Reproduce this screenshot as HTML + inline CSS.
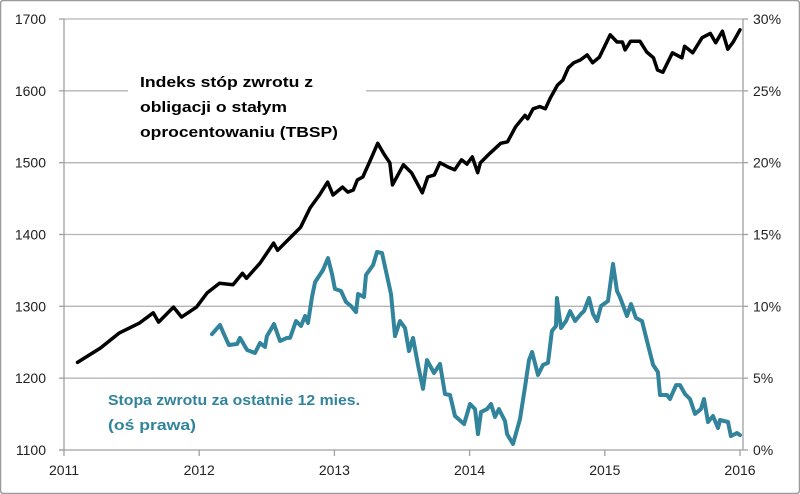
<!DOCTYPE html>
<html><head><meta charset="utf-8"><style>
html,body{margin:0;padding:0;background:#fff}
svg{display:block;font-family:"Liberation Sans",sans-serif}
</style></head><body>
<svg id="chart" width="800" height="494" viewBox="0 0 800 494" xmlns="http://www.w3.org/2000/svg">
<rect x="0.5" y="0.5" width="799" height="493" rx="3" fill="#fff" stroke="#9a9a9a" stroke-width="1.5"/>
<g id="grid"></g>
<g id="axes"></g>
<g id="series"></g>
<rect x="128" y="68" width="238" height="76" fill="#fff"/>
<text font-weight="bold" font-size="15" fill="#000">
<tspan x="140" y="87" textLength="173" lengthAdjust="spacingAndGlyphs">Indeks stóp zwrotu z</tspan>
<tspan x="140" y="112" textLength="147" lengthAdjust="spacingAndGlyphs">obligacji o stałym</tspan>
<tspan x="140" y="137" textLength="198" lengthAdjust="spacingAndGlyphs">oprocentowaniu (TBSP)</tspan>
</text>
<text font-weight="bold" font-size="15" fill="#31849b">
<tspan x="108" y="405" textLength="252" lengthAdjust="spacingAndGlyphs">Stopa zwrotu za ostatnie 12 mies.</tspan>
<tspan x="108" y="430" textLength="88" lengthAdjust="spacingAndGlyphs">(oś prawa)</tspan>
</text>
</svg>
<script>
const leftTicks = [1100,1200,1300,1400,1500,1600,1700];
const rightTicks = [0,5,10,15,20,25,30];
const yearTicks = [2011,2012,2013,2014,2015,2016];
const tbspDates = [2011.10,2011.27,2011.41,2011.56,2011.66,2011.70,2011.81,2011.87,2011.98,2012.06,2012.15,2012.25,2012.32,2012.35,2012.45,2012.55,2012.58,2012.67,2012.75,2012.82,2012.89,2012.95,2012.99,2013.06,2013.10,2013.14,2013.17,2013.21,2013.26,2013.32,2013.37,2013.41,2013.43,2013.51,2013.57,2013.65,2013.69,2013.74,2013.78,2013.84,2013.89,2013.94,2013.98,2014.02,2014.06,2014.08,2014.15,2014.23,2014.28,2014.34,2014.41,2014.43,2014.47,2014.52,2014.56,2014.60,2014.65,2014.69,2014.73,2014.77,2014.82,2014.87,2014.91,2014.96,2015.04,2015.09,2015.13,2015.15,2015.19,2015.26,2015.31,2015.36,2015.39,2015.43,2015.50,2015.57,2015.59,2015.65,2015.72,2015.78,2015.82,2015.87,2015.91,2015.95,2016.00];
const tbspValues = [1222,1242,1263,1277,1291,1278,1299,1285,1299,1319,1332,1330,1346,1339,1360,1388,1378,1395,1410,1437,1455,1473,1455,1466,1459,1462,1476,1480,1501,1527,1511,1500,1469,1497,1486,1458,1480,1483,1500,1494,1490,1504,1498,1508,1486,1500,1513,1527,1529,1550,1566,1561,1575,1578,1575,1591,1608,1615,1632,1639,1643,1650,1639,1647,1678,1668,1668,1657,1669,1669,1654,1646,1629,1626,1653,1646,1662,1653,1674,1680,1667,1683,1658,1668,1685];
const retDates = [2012.095,2012.154,2012.183,2012.22,2012.28,2012.302,2012.354,2012.413,2012.45,2012.487,2012.501,2012.553,2012.598,2012.649,2012.672,2012.716,2012.753,2012.783,2012.805,2012.834,2012.857,2012.916,2012.953,2012.982,2013.004,2013.049,2013.086,2013.123,2013.16,2013.175,2013.219,2013.234,2013.286,2013.315,2013.352,2013.419,2013.448,2013.485,2013.522,2013.552,2013.581,2013.618,2013.655,2013.685,2013.737,2013.781,2013.818,2013.855,2013.892,2013.959,2014.003,2014.04,2014.062,2014.084,2014.129,2014.158,2014.188,2014.217,2014.262,2014.277,2014.321,2014.373,2014.41,2014.439,2014.462,2014.506,2014.543,2014.58,2014.609,2014.639,2014.646,2014.676,2014.713,2014.743,2014.78,2014.824,2014.846,2014.883,2014.913,2014.942,2014.972,2015.024,2015.061,2015.09,2015.112,2015.164,2015.194,2015.231,2015.275,2015.312,2015.357,2015.393,2015.408,2015.46,2015.482,2015.527,2015.556,2015.593,2015.63,2015.667,2015.711,2015.734,2015.763,2015.80,2015.837,2015.852,2015.911,2015.933,2015.978,2016.0];
const retValues = [8.07,8.70,8.07,7.31,7.38,7.80,6.96,6.75,7.45,7.17,7.93,8.77,7.59,7.80,7.80,8.98,8.63,9.33,8.84,10.65,11.69,12.53,13.36,12.25,11.21,11.07,10.30,10.02,9.60,10.86,10.65,12.18,12.88,13.78,13.71,10.86,7.93,8.98,8.49,6.89,7.80,5.92,4.25,6.26,5.36,5.99,3.90,3.83,2.37,1.81,3.20,2.85,1.11,2.64,2.85,3.20,2.30,2.85,2.02,1.11,0.42,2.16,4.38,6.26,6.82,5.22,5.92,6.06,8.28,8.63,10.58,8.49,8.98,9.67,8.98,9.47,9.67,10.58,9.47,8.98,10.02,10.37,12.95,11.07,10.65,9.33,10.16,9.19,8.98,7.59,5.92,5.43,3.83,3.83,3.55,4.52,4.52,3.90,3.55,2.51,2.85,3.55,1.95,2.37,1.53,2.09,1.95,0.97,1.18,1.04];

const X0=64, X1=740, YT=19, YB=450;
const xScale = d => X0 + (d-2011)/(2016-2011)*(X1-X0);
const yLeft = v => YB - (v-1100)/(1700-1100)*(YB-YT);
const yRight = v => YB - (v-0)/(30-0)*(YB-YT);
const NS='http://www.w3.org/2000/svg';
function mk(tag, attrs, parent){const e=document.createElementNS(NS,tag);for(const k in attrs)e.setAttribute(k,attrs[k]);parent.appendChild(e);return e;}
const grid=document.getElementById('grid'), axes=document.getElementById('axes'), series=document.getElementById('series');

leftTicks.forEach((t,i)=>{
  const y=yLeft(t);
  if(t>1100){const g=mk('line',{x1:X0,x2:743,y1:y,y2:y,stroke:'#b5b5b5','stroke-width':1.3},grid);
  
  }
  const tk=mk('line',{x1:X0-5,x2:X0,y1:y,y2:y,stroke:'#a0a0a0','stroke-width':1.3},axes);
  
  
  const tx=mk('text',{x:46,y:y+5,'text-anchor':'end','font-size':14,fill:'#222'},axes);
  tx.textContent=t;
  
  
});
rightTicks.forEach(t=>{
  const y=yRight(t);
  const tk=mk('line',{x1:743,x2:748,y1:y,y2:y,stroke:'#a0a0a0','stroke-width':1.3},axes);
  
  
  const tx=mk('text',{x:753,y:y+5,'font-size':14,fill:'#222'},axes);
  tx.textContent=t+'%';
  
  
});
yearTicks.forEach(t=>{
  const x=xScale(t);
  const tk=mk('line',{x1:x,x2:x,y1:YB,y2:YB+6,stroke:'#a0a0a0','stroke-width':1.3},axes);
  
  
  const tx=mk('text',{x:x,y:YB+25,'text-anchor':'middle','font-size':14,fill:'#222'},axes);
  tx.textContent=t;
  
  
});
const la=mk('line',{x1:X0,x2:X0,y1:YT,y2:YB,stroke:'#a0a0a0','stroke-width':1.3},axes);


const ra=mk('line',{x1:743,x2:743,y1:YT,y2:YB,stroke:'#a0a0a0','stroke-width':1.3},axes);


const xa=mk('line',{x1:X0-5,x2:743,y1:YB,y2:YB,stroke:'#a0a0a0','stroke-width':1.3},axes);



const p1=mk('polyline',{points:tbspDates.map((d,i)=>xScale(d).toFixed(1)+','+yLeft(tbspValues[i]).toFixed(1)).join(' '),fill:'none',stroke:'#000','stroke-width':3.5,'stroke-linejoin':'round','stroke-linecap':'round'},series);


const p2=mk('polyline',{points:retDates.map((d,i)=>xScale(d).toFixed(1)+','+yRight(retValues[i]).toFixed(1)).join(' '),fill:'none',stroke:'#31849b','stroke-width':4,'stroke-linejoin':'round','stroke-linecap':'round'},series);


</script>
</body></html>
